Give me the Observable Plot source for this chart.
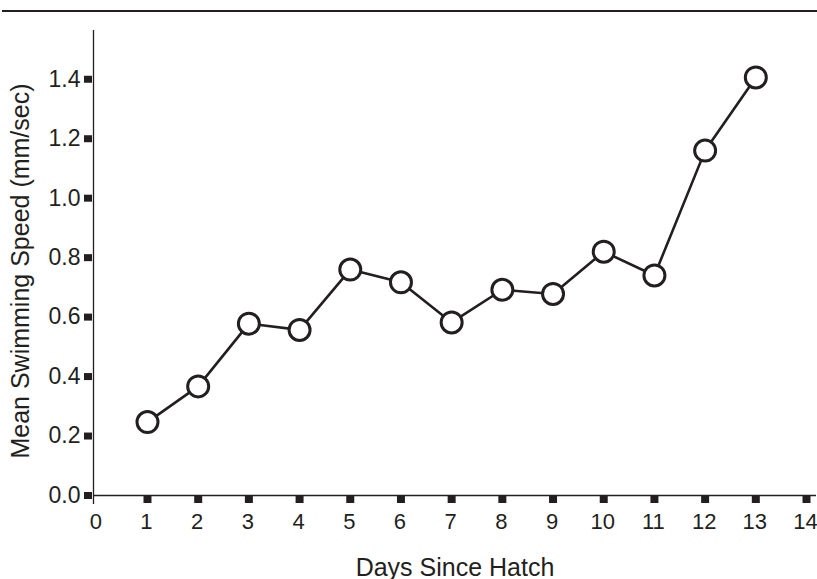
<!DOCTYPE html>
<html>
<head>
<meta charset="utf-8">
<script src="https://cdn.jsdelivr.net/npm/d3@7"></script>
<script src="https://cdn.jsdelivr.net/npm/@observablehq/plot@0.6"></script>
<style>
  html, body { margin: 0; padding: 0; background: #fff; }
  #wrap { position: relative; width: 817px; height: 579px; overflow: hidden; }
  #rule { position: absolute; left: 2px; top: 10px; width: 815px; height: 2px; background: #231f20; z-index: 1; }
</style>
</head>
<body>
<div id="wrap"><div id="rule"></div></div>
<script>
// Data
const days = [1, 2, 3, 4, 5, 6, 7, 8, 9, 10, 11, 12, 13];
const speed = [0.247, 0.367, 0.578, 0.557, 0.760, 0.717, 0.582, 0.692, 0.678, 0.820, 0.740, 1.160, 1.406];
const xTickLabels = [0, 1, 2, 3, 4, 5, 6, 7, 8, 9, 10, 11, 12, 13, 14];
const xTickMarks = [1, 2, 3, 4, 5, 6, 7, 8, 9, 10, 11, 12, 13, 14];
const yTicks = [0, 0.2, 0.4, 0.6, 0.8, 1.0, 1.2, 1.4];
const xTitle = "Days Since Hatch";
const yTitle = "Mean Swimming Speed (mm/sec)";

const xDomain = [-0.065, 14.197];
const yDomain = [0, 1.564];
const ink = "#231f20";

const data = days.map((d, i) => ({day: d, speed: speed[i]}));

const chart = Plot.plot({
  width: 817,
  height: 579,
  marginLeft: 93,
  marginRight: 1,
  marginTop: 30,
  marginBottom: 84,
  style: {fontFamily: "'Liberation Sans', Arial, Helvetica, sans-serif", fontSize: "22px", color: ink, background: "transparent"},
  x: {domain: xDomain},
  y: {domain: yDomain},
  marks: [
    Plot.ruleX([xDomain[0]], {stroke: ink, strokeWidth: 1.3, insetBottom: -9}),
    Plot.ruleY([0], {stroke: ink, strokeWidth: 1.3}),
    Plot.axisY(yTicks, {tickSize: 8, strokeWidth: 7, tickPadding: 4, dx: -1, fontSize: 23, tickFormat: d3.format(".1f"), label: null}),
    Plot.axisX(xTickMarks, {tickSize: 8, strokeWidth: 8, tickFormat: () => "", label: null}),
    Plot.axisX(xTickLabels, {tickSize: 0, tickPadding: 18, dx: -1, fontSize: 22, tickFormat: d3.format("d"), label: null}),
    Plot.line(data, {x: "day", y: "speed", stroke: ink, strokeWidth: 2.6}),
    Plot.dot(data, {x: "day", y: "speed", r: 10.5, fill: "white", stroke: ink, strokeWidth: 3}),
    Plot.text([xTitle], {text: d => d, frameAnchor: "bottom", textAnchor: "middle", lineAnchor: "bottom", dy: 80, fontSize: 25, fill: ink}),
    Plot.text([yTitle], {text: d => d, frameAnchor: "left", textAnchor: "middle", rotate: -90, lineAnchor: "bottom", dx: -65, dy: 8, fontSize: 25, fill: ink})
  ]
});

document.getElementById("wrap").appendChild(chart);
</script>
</body>
</html>
